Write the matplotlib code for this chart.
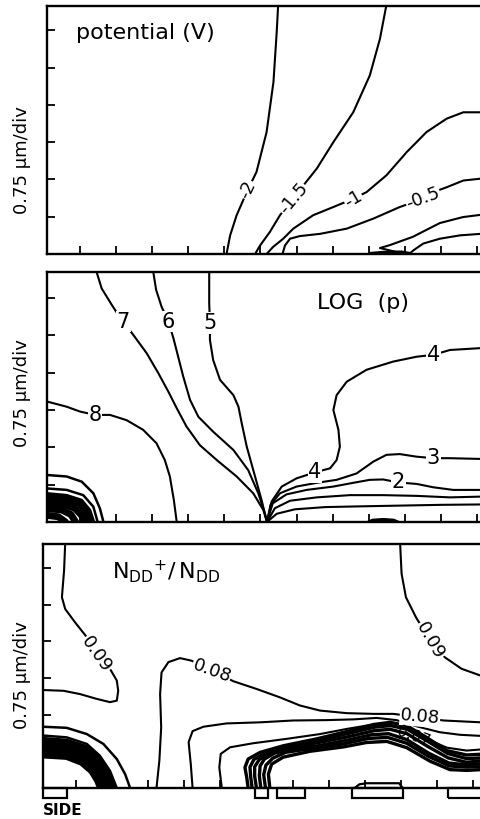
import matplotlib
matplotlib.use("Agg")
import matplotlib.pyplot as plt
from matplotlib.patches import Rectangle

# all coordinates in axis divisions (1 div = 0.75 um), x from first tick, y from bottom

# ---- panel 1: potential (V)
pot_lines = [
    [(5.49, 6.68), (5.45, 5.95), (5.36, 4.61), (5.17, 3.27), (4.89, 2.20), (4.62, 1.66),
     (4.34, 1.04), (4.16, 0.50), (4.06, 0.0)],
    [(8.49, 6.68), (8.31, 5.77), (8.03, 4.79), (7.57, 3.80), (7.02, 3.00), (6.56, 2.29),
     (6.19, 1.84), (5.91, 1.48), (5.54, 1.04), (5.26, 0.59), (4.99, 0.23), (4.85, 0.0)],
    [(11.1, 3.80), (10.62, 3.80), (10.16, 3.63), (9.60, 3.27), (9.05, 2.73), (8.49, 2.11),
     (7.94, 1.66), (7.57, 1.48), (7.02, 1.26), (6.46, 1.04), (5.91, 0.68), (5.63, 0.41),
     (5.35, 0.19), (5.17, 0.0)],
    [(11.1, 2.02), (10.62, 1.97), (10.16, 1.79), (9.79, 1.66), (9.51, 1.48), (8.86, 1.26),
     (8.13, 0.95), (7.39, 0.68), (6.65, 0.54), (6.09, 0.48), (5.82, 0.41), (5.68, 0.23),
     (5.61, 0.0)],
    [(11.1, 1.05), (10.61, 0.99), (9.97, 0.83), (9.22, 0.46), (8.59, 0.24), (8.31, 0.16),
     (8.78, 0.05), (9.14, 0.0)],
    [(11.1, 0.54), (10.53, 0.50), (9.97, 0.41), (9.51, 0.28), (9.24, 0.10), (9.12, 0.0)],
]
pot_blob = [(8.03, 0.0), (8.40, 0.03), (8.90, 0.04), (9.14, 0.0)]
pot_labels = [("-2", 4.65, 1.72, 65), ("-1.5", 5.91, 1.48, 50),
              ("-1", 7.57, 1.48, 30), ("-0.5", 9.51, 1.48, 20)]

# ---- panel 2: LOG (p)
logp_lines = [
    # 8
    [(-0.92, 3.23), (-0.37, 3.09), (0.0, 2.96), (0.42, 2.87), (0.83, 2.87), (1.29, 2.73),
     (1.75, 2.47), (2.12, 2.11), (2.35, 1.66), (2.49, 1.22), (2.60, 0.59), (2.68, 0.0)],
    # 7
    [(0.46, 6.70), (0.60, 6.26), (0.88, 5.82), (1.06, 5.55), (1.48, 5.01), (1.85, 4.52),
     (2.17, 3.99), (2.45, 3.49), (2.68, 3.05), (2.95, 2.56), (3.32, 2.06), (3.79, 1.66),
     (4.34, 1.22), (4.80, 0.77), (5.08, 0.32), (5.18, 0.0)],
    # 6
    [(2.03, 6.70), (2.11, 6.22), (2.26, 5.77), (2.45, 5.37), (2.59, 4.92), (2.72, 4.43),
     (2.86, 3.90), (3.05, 3.27), (3.28, 2.82), (3.69, 2.42), (4.25, 1.93), (4.66, 1.39),
     (4.94, 0.77), (5.12, 0.23), (5.18, 0.0)],
    # 5
    [(3.58, 6.70), (3.58, 5.86), (3.60, 5.33), (3.60, 4.88), (3.69, 4.34), (3.88, 3.81),
     (4.25, 3.40), (4.39, 3.09), (4.48, 2.65), (4.62, 2.02), (4.85, 1.22), (5.03, 0.59),
     (5.18, 0.0)],
    # 4
    [(5.18, 0.0), (5.31, 0.55), (5.59, 0.95), (6.00, 1.17), (6.51, 1.33), (6.93, 1.44),
     (7.11, 1.66), (7.20, 2.02), (7.16, 2.47), (7.02, 3.00), (7.11, 3.40), (7.39, 3.76),
     (7.94, 4.08), (8.68, 4.30), (9.33, 4.43), (9.79, 4.48), (10.25, 4.61), (11.1, 4.66)],
    # 3
    [(5.18, 0.0), (5.28, 0.46), (5.54, 0.77), (6.00, 0.95), (6.56, 1.05), (7.11, 1.13),
     (7.66, 1.30), (8.13, 1.62), (8.49, 1.80), (8.86, 1.82), (9.33, 1.75), (9.79, 1.71),
     (10.25, 1.71), (11.1, 1.69)],
    # 2
    [(5.18, 0.0), (5.34, 0.50), (5.72, 0.74), (6.28, 0.86), (7.02, 0.95), (7.57, 1.05),
     (8.03, 1.13), (8.40, 1.14), (8.82, 1.06), (9.33, 1.02), (9.79, 0.93), (10.34, 0.86),
     (11.1, 0.86)],
    # 1
    [(5.18, 0.0), (5.40, 0.37), (5.82, 0.57), (6.56, 0.66), (7.48, 0.72), (8.40, 0.72),
     (9.33, 0.70), (10.25, 0.66), (11.1, 0.68)],
    # 0
    [(5.18, 0.0), (5.45, 0.22), (5.95, 0.34), (6.80, 0.40), (7.80, 0.42), (8.90, 0.44),
     (10.00, 0.46), (11.1, 0.47)],
]
logp_arcs = [
    [(-0.92, 1.26), (-0.37, 1.22), (0.05, 1.08), (0.37, 0.77), (0.55, 0.37), (0.65, 0.0)],
    [(-0.92, 0.90), (-0.37, 0.86), (0.09, 0.72), (0.37, 0.41), (0.49, 0.0)],
    [(-0.92, 0.77), (-0.37, 0.72), (0.05, 0.59), (0.28, 0.32), (0.39, 0.0)],
]
logp_arcs_dense = [
    [(-0.92, 0.66), (-0.37, 0.62), (0.0, 0.50), (0.20, 0.24), (0.28, 0.0)],
    [(-0.92, 0.52), (-0.45, 0.48), (-0.13, 0.36), (0.06, 0.16), (0.12, 0.0)],
    [(-0.92, 0.36), (-0.50, 0.32), (-0.25, 0.20), (-0.12, 0.0)],
    [(-0.92, 0.18), (-0.60, 0.14), (-0.40, 0.0)],
]
logp_blob = [(7.94, 0.0), (8.10, 0.07), (8.40, 0.09), (8.70, 0.07), (8.86, 0.0)]
logp_labels = [("8", 0.42, 2.87), ("7", 1.20, 5.37), ("6", 2.45, 5.37), ("5", 3.60, 5.33),
               ("4", 6.51, 1.33), ("4", 9.79, 4.48), ("3", 9.79, 1.71), ("2", 8.82, 1.06)]

# ---- panel 3: NDD+/NDD
ndd_lines = [
    # 0.09 left
    [(-0.30, 6.65), (-0.33, 5.93), (-0.39, 5.20), (-0.30, 4.88), (-0.03, 4.52), (0.30, 4.11),
     (0.57, 3.65), (0.94, 3.25), (1.13, 2.93), (1.17, 2.65), (1.13, 2.38), (0.94, 2.34),
     (0.57, 2.43), (0.11, 2.56), (-0.35, 2.65), (-0.92, 2.67)],
    # 0.09 right
    [(8.98, 6.65), (9.02, 5.84), (9.14, 5.20), (9.42, 4.65), (9.81, 4.02), (10.22, 3.56),
     (10.68, 3.25), (11.22, 3.06)],
    # 0.08
    [(2.23, 0.0), (2.31, 0.75), (2.36, 1.65), (2.33, 2.56), (2.37, 3.15), (2.56, 3.43),
     (2.88, 3.54), (3.20, 3.47), (3.76, 3.20), (4.36, 2.91), (5.00, 2.70), (5.65, 2.47),
     (6.20, 2.25), (6.76, 2.11), (7.50, 2.04), (8.24, 2.02), (8.79, 2.02), (9.53, 1.93),
     (10.18, 1.84), (11.22, 1.79)],
    [(3.23, 0.0), (3.18, 0.65), (3.12, 1.25), (3.23, 1.55), (3.53, 1.67), (4.17, 1.76),
     (5.10, 1.79), (6.02, 1.84), (6.94, 1.85), (7.68, 1.87), (8.33, 1.91), (8.88, 1.85),
     (9.44, 1.68), (10.08, 1.52), (10.64, 1.45), (11.22, 1.42)],
    [(4.04, 0.0), (3.97, 0.56), (4.01, 0.93), (4.27, 1.11), (4.91, 1.22), (5.84, 1.34),
     (6.76, 1.47), (7.50, 1.61), (8.05, 1.70), (8.61, 1.73), (9.16, 1.61), (9.71, 1.34),
     (10.27, 1.10), (10.82, 1.02), (11.22, 1.05)],
]
ndd_band = [
    [(4.77, 0.0), (4.73, 0.29), (4.68, 0.56), (4.77, 0.79), (5.10, 0.97), (5.74, 1.15),
     (6.67, 1.34), (7.59, 1.56), (8.24, 1.73), (8.70, 1.79), (9.16, 1.70), (9.71, 1.38),
     (10.27, 1.02), (10.82, 0.90), (11.22, 0.92)],
    [(4.88, 0.0), (4.84, 0.30), (4.82, 0.57), (4.93, 0.78), (5.25, 0.95), (5.85, 1.12),
     (6.70, 1.30), (7.60, 1.50), (8.28, 1.66), (8.72, 1.70), (9.18, 1.60), (9.73, 1.28),
     (10.30, 0.94), (10.82, 0.80), (11.22, 0.82)],
    [(5.00, 0.0), (4.95, 0.32), (4.95, 0.58), (5.08, 0.78), (5.38, 0.94), (5.92, 1.09),
     (6.62, 1.22), (7.55, 1.40), (8.25, 1.56), (8.70, 1.60), (9.17, 1.48), (9.75, 1.13),
     (10.31, 0.82), (10.82, 0.70), (11.22, 0.74)],
    [(5.12, 0.0), (5.08, 0.33), (5.10, 0.60), (5.22, 0.79), (5.50, 0.95), (6.05, 1.07),
     (6.70, 1.15), (7.50, 1.30), (8.18, 1.45), (8.66, 1.48), (9.16, 1.32), (9.77, 0.95),
     (10.33, 0.68), (10.82, 0.63), (11.22, 0.66)],
    [(5.25, 0.0), (5.20, 0.36), (5.26, 0.62), (5.45, 0.81), (5.80, 0.97), (6.40, 1.06),
     (7.40, 1.20), (8.10, 1.35), (8.63, 1.38), (9.16, 1.22), (9.79, 0.85), (10.35, 0.60),
     (10.82, 0.57), (11.22, 0.58)],
    [(5.37, 0.0), (5.33, 0.38), (5.42, 0.65), (5.74, 0.84), (6.48, 1.00), (7.41, 1.12),
     (8.05, 1.24), (8.61, 1.27), (9.16, 1.10), (9.81, 0.73), (10.36, 0.50), (10.82, 0.48),
     (11.22, 0.50)],
]
ndd_arcs = [
    [(-0.92, 1.67), (-0.26, 1.64), (0.30, 1.47), (0.76, 1.20), (1.13, 0.79), (1.36, 0.38), (1.50, 0.0)],
    [(-0.92, 1.43), (-0.26, 1.38), (0.30, 1.20), (0.66, 0.88), (0.94, 0.47), (1.13, 0.0)],
]
ndd_arcs_dense = [
    [(-0.92, 1.30), (-0.26, 1.25), (0.28, 1.08), (0.62, 0.78), (0.86, 0.40), (1.02, 0.0)],
    [(-0.92, 1.18), (-0.26, 1.12), (0.24, 0.96), (0.56, 0.68), (0.78, 0.34), (0.92, 0.0)],
    [(-0.92, 1.05), (-0.26, 1.00), (0.20, 0.84), (0.50, 0.58), (0.70, 0.28), (0.82, 0.0)],
    [(-0.92, 0.90), (-0.26, 0.86), (0.16, 0.70), (0.44, 0.46), (0.60, 0.20), (0.68, 0.0)],
]
ndd_labels = [("0.09", 0.57, 3.65, -55), ("0.09", 9.81, 4.02, -60),
              ("0.08", 3.76, 3.20, -20), ("0.08", 9.53, 1.93, -5)]
# contacts under the bottom panel (x start, x end)
contacts = [(-0.91, -0.25), (4.96, 5.32), (5.57, 6.34), (7.65, 9.06), (10.30, 11.30)]
contact_bump = [(7.72, 0.0), (7.85, 0.10), (8.05, 0.13), (8.95, 0.13), (9.05, 0.0)]

LW = 1.5


def draw(ax, pts, lw=LW):
    xs, ys = zip(*pts)
    ax.plot(xs, ys, color="black", lw=lw, solid_joinstyle="round",
            solid_capstyle="round", zorder=2)


def label(ax, txt, x, y, rot=0, size=13):
    ax.text(x, y, txt, ha="center", va="center", rotation=rot, fontsize=size,
            rotation_mode="anchor", zorder=4,
            bbox=dict(fc="white", ec="none", pad=0.4))


def setup(ax, xmax, ymax):
    ax.set_xlim(-0.914, xmax)
    ax.set_ylim(0, ymax)
    ax.set_xticks(range(0, 12))
    ax.set_yticks(range(1, 7))
    ax.tick_params(direction="in", length=6, width=1.3,
                   labelbottom=False, labelleft=False)
    ax.spines["right"].set_visible(False)
    for s in ("left", "top", "bottom"):
        ax.spines[s].set_linewidth(1.7)


fig = plt.figure(figsize=(4.81, 8.19), dpi=100)
W, H = 481.0, 819.0

ax1 = fig.add_axes([47 / W, 1 - 254 / H, 434 / W, 248 / H])
ax2 = fig.add_axes([47 / W, 1 - 522 / H, 434 / W, 250 / H])
ax3 = fig.add_axes([43 / W, 1 - 788 / H, 438 / W, 244 / H])

# panel 1
setup(ax1, 11.11, 6.65)
for ln in pot_lines:
    draw(ax1, ln)
draw(ax1, pot_blob, lw=3)
for txt, x, y, r in pot_labels:
    label(ax1, txt, x, y, r)
ax1.text(-0.1, 5.92, "potential (V)", ha="left", va="center", fontsize=16)

# panel 2
setup(ax2, 11.11, 6.70)
for ln in logp_lines:
    draw(ax2, ln)
for ln in logp_arcs:
    draw(ax2, ln, lw=1.8)
for ln in logp_arcs_dense:
    draw(ax2, ln, lw=5)
xs, ys = zip(*logp_blob)
ax2.fill(xs, ys, color="black", zorder=2)
for txt, x, y in logp_labels:
    label(ax2, txt, x, y, 0, 15)
ax2.text(6.57, 5.87, "LOG  (p)", ha="left", va="center", fontsize=16)

# panel 3
setup(ax3, 11.22, 6.65)
for ln in ndd_lines:
    draw(ax3, ln)
for ln in ndd_band:
    draw(ax3, ln, lw=2.4)
for ln in ndd_arcs:
    draw(ax3, ln, lw=1.8)
for ln in ndd_arcs_dense:
    draw(ax3, ln, lw=5)
for txt, x, y, r in ndd_labels:
    label(ax3, txt, x, y, r)
ax3.text(9.34, 1.40, "0.07", ha="center", va="center", rotation=-20,
         fontsize=11, zorder=4)
ax3.text(1.0, 5.89, r"$\mathregular{N_{DD}{}^{+}/\,N_{DD}}$", ha="left", va="center",
         fontsize=16)
for x0, x1 in contacts:
    ax3.add_patch(Rectangle((x0, -0.27), x1 - x0, 0.27, fill=False, lw=1.6,
                            ec="black", clip_on=False))
draw(ax3, contact_bump, lw=1.6)
ax3.text(-0.93, -0.62, "SIDE", ha="left", va="center", fontsize=11,
         fontweight="bold", clip_on=False)

for yc in (1 - 160 / H, 1 - 393 / H, 1 - 675 / H):
    fig.text(22 / W, yc, "0.75 \u03bcm/div", rotation=90, ha="center",
             va="center", fontsize=13)

fig.savefig("out.png", dpi=100)
